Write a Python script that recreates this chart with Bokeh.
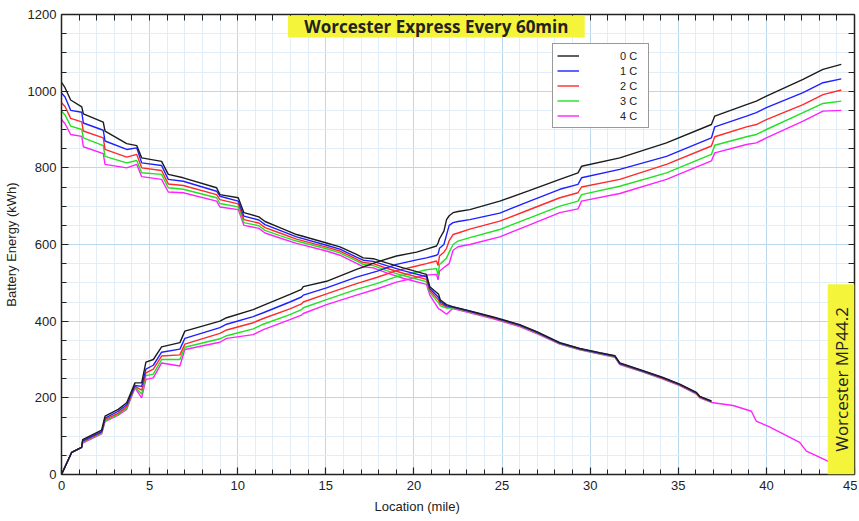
import math
from bokeh.plotting import figure
from bokeh.models import (Range1d, FixedTicker, LinearAxis, Legend, LegendItem,
                          BoxAnnotation, Label, Title)
from bokeh.embed import file_html
from bokeh.resources import INLINE

# ---------------- data ----------------
series_names = ["0 C", "1 C", "2 C", "3 C", "4 C"]
series_colors = ["#1c1c1c", "#2020ff", "#ff2a2a", "#22e022", "#ff22ff"]

desc_x = [0, 0.2, 0.52, 1.15, 1.24, 2.37, 2.47, 3.70, 4.27, 4.55,
          5.68, 6.06, 6.91, 8.80, 8.99, 10.03, 10.35, 11.2, 11.55, 12.39,
          13.34, 15.04, 15.80, 16.74, 17.12, 17.69, 18.45, 19.39, 20.71, 20.9,
          21.4, 21.5, 21.85, 22.2, 23.17, 24.5, 26.0, 27.0, 28.28, 29.41,
          30.54, 31.4, 31.68, 33.0, 34.13, 35.08, 36.03, 36.22, 36.88]
desc_0c = [1023, 1009, 977, 959, 941, 919, 896, 863, 858, 826,
           817, 783, 774, 748, 730, 722, 683, 672, 660, 644,
           626, 604, 594, 574, 565, 563, 552, 539, 522, 490,
           470, 455, 443, 438, 427, 411, 391, 372, 344, 329,
           318, 310, 291, 271, 253, 236, 214, 204, 192]
desc_1c = [995, 985, 950, 945, 917, 898, 870, 848, 852, 813,
           806, 770, 765, 739, 726, 713, 674, 664, 652, 637,
           620, 598, 588, 567, 559, 556, 545, 532, 516, 485,
           462, 450, 440, 437, 426, 410, 390, 371, 343, 328,
           317, 309, 290, 270, 252, 235, 213, 203, 191]
desc_2c = [970, 960, 929, 920, 896, 878, 848, 828, 835, 800,
           793, 758, 754, 730, 717, 706, 665, 656, 644, 630,
           614, 593, 583, 562, 553, 550, 538, 525, 509, 480,
           455, 445, 437, 436, 425, 409, 389, 370, 342, 327,
           316, 308, 289, 269, 251, 234, 212, 202, 190]
desc_3c = [948, 938, 909, 900, 878, 858, 830, 813, 819, 787,
           783, 748, 744, 722, 707, 698, 657, 649, 637, 623,
           609, 589, 578, 557, 548, 545, 532, 519, 503, 475,
           447, 440, 434, 435, 424, 408, 388, 369, 341, 326,
           315, 307, 288, 268, 250, 233, 211, 201, 189]
desc_4c = [926, 915, 887, 882, 855, 837, 809, 800, 809, 777,
           770, 737, 735, 713, 698, 691, 650, 642, 630, 617,
           603, 583, 572, 551, 542, 539, 526, 512, 496, 468,
           432, 430, 418, 433, 422, 406, 386, 367, 340, 325,
           314, 306, 287, 267, 249, 232, 210, 200, 188]
# 4 C keeps going after the others stop
tail_x_4c = [38.11, 39.15, 39.43, 40.09, 41.89, 42.27, 43.4, 44.2]
tail_4c = [180, 165, 139, 126, 84, 61, 37, 15]

asc_x = [0, 0.58, 1.14, 1.2, 2.28, 2.47, 3.22, 3.70, 4.17, 4.55,
         4.79, 5.21, 5.68, 6.72, 7.0, 8.99, 9.37, 10.88, 11.45, 12.96,
         13.62, 13.72, 15.04, 16.74, 17.88, 19.01, 20.15, 20.71, 21.28, 21.37,
         21.45, 21.7, 21.85, 22.0, 22.22, 22.5, 23.17, 24.87, 26.5, 28.28,
         29.31, 29.51, 31.68, 34.33, 36.88, 37.07, 38.87, 39.43, 40.0, 42.08,
         43.21, 44.25]
asc_0c = [0, 58, 71, 91, 116, 152, 170, 187, 239, 239,
          293, 300, 333, 344, 374, 400, 409, 430, 441, 470,
          483, 490, 504, 535, 554, 570, 580, 588, 596, 604,
          615, 635, 665, 675, 683, 686, 691, 713, 740, 770,
          787, 804, 826, 865, 913, 935, 965, 974, 987, 1031,
          1057, 1070]
asc_1c = [0, 58, 71, 88, 112, 147, 165, 182, 232, 230,
          275, 285, 319, 327, 355, 383, 392, 412, 422, 450,
          463, 468, 487, 515, 530, 548, 560, 565, 572, 575,
          590, 600, 625, 650, 657, 660, 665, 682, 712, 744,
          757, 774, 796, 830, 878, 907, 935, 944, 957, 996,
          1022, 1032]
asc_2c = [0, 58, 71, 86, 110, 143, 160, 177, 230, 220,
          265, 275, 309, 312, 340, 368, 377, 396, 407, 432,
          445, 450, 471, 498, 514, 532, 544, 550, 557, 545,
          570, 580, 590, 610, 626, 630, 640, 661, 690, 722,
          735, 750, 770, 809, 857, 881, 907, 913, 926, 965,
          991, 1003]
asc_3c = [0, 58, 71, 84, 108, 140, 157, 173, 228, 210,
          258, 262, 300, 300, 332, 354, 362, 380, 392, 417,
          430, 435, 456, 483, 498, 516, 528, 534, 537, 518,
          548, 558, 565, 580, 600, 609, 618, 639, 668, 700,
          713, 730, 752, 787, 835, 859, 881, 887, 900, 944,
          968, 974]
asc_4c = [0, 58, 71, 82, 106, 138, 155, 170, 226, 200,
          248, 252, 291, 283, 326, 345, 355, 365, 378, 404,
          416, 420, 443, 468, 484, 502, 514, 520, 522, 508,
          530, 540, 545, 550, 585, 594, 600, 620, 650, 683,
          693, 713, 733, 770, 818, 839, 861, 865, 878, 922,
          948, 950]

x_major = list(range(0, 46, 5))
x_minor = list(range(0, 46))
y_major = list(range(0, 1201, 200))
y_minor = list(range(0, 1201, 50))

title_text = "Worcester Express Every 60min"
side_text = "Worcester MP44.2"
x_label_text = "Location (mile)"
y_label_text = "Battery Energy (kWh)"

# ---------------- figure ----------------
TICK_FONT = "Liberation Sans Narrow, Arial Narrow, Liberation Sans"
p = figure(frame_width=793, frame_height=460, x_range=Range1d(0, 45), y_range=Range1d(0, 1200),
           output_backend="svg", toolbar_location=None,
           min_border_left=54, min_border_right=3, min_border_top=14, min_border_bottom=30)
p.outline_line_color = None
p.background_fill_color = "white"

xb = p.below[0]
yl = p.left[0]
xt = LinearAxis(ticker=FixedTicker(ticks=[], minor_ticks=x_minor))
yr = LinearAxis(ticker=FixedTicker(ticks=[], minor_ticks=y_minor))
p.add_layout(xt, "above")
p.add_layout(yr, "right")

xb.ticker = FixedTicker(ticks=x_major, minor_ticks=x_minor)
yl.ticker = FixedTicker(ticks=y_major, minor_ticks=y_minor)

for ax in (xb, yl, xt, yr):
    ax.axis_line_color = "#222222"
    ax.axis_line_width = 1.5
    ax.major_tick_in = 7
    ax.major_tick_out = 0
    ax.minor_tick_in = 5
    ax.minor_tick_out = 0
    ax.major_tick_line_color = "#222222"
    ax.minor_tick_line_color = "#222222"
    ax.major_tick_line_width = 1.2
    ax.minor_tick_line_width = 1
    ax.major_label_text_font = TICK_FONT
    ax.major_label_text_font_size = "13px"
    ax.major_label_text_color = "#222222"
    ax.major_label_standoff = 5

xt.minor_tick_in = 6
yr.minor_tick_in = 6
xt.major_label_standoff = 0
yr.major_label_standoff = 0

xb.major_label_standoff = 6

yl.axis_label = y_label_text
yl.axis_label_text_font = TICK_FONT
yl.axis_label_text_font_size = "13px"
yl.axis_label_text_font_style = "normal"
yl.axis_label_text_color = "#222222"
yl.axis_label_standoff = 6

xtitle = Title(text=x_label_text, align="left", offset=313, standoff=8,
               text_font=TICK_FONT, text_font_size="13px", text_font_style="normal",
               text_color="#222222")
p.add_layout(xtitle, "below")

p.xgrid.grid_line_color = "#b9d8ec"
p.ygrid.grid_line_color = "#b9d8ec"
p.xgrid.minor_grid_line_color = "#e1eef7"
p.ygrid.minor_grid_line_color = "#e1eef7"

desc_all = [desc_0c, desc_1c, desc_2c, desc_3c, desc_4c]
asc_all = [asc_0c, asc_1c, asc_2c, asc_3c, asc_4c]

renderers = {}
for i in reversed(range(5)):
    dx = list(desc_x)
    dy = list(desc_all[i])
    if i == 4:
        dx += tail_x_4c
        dy += tail_4c
    p.line(dx, dy, line_color=series_colors[i], line_width=1.4)
    renderers[i] = p.line(asc_x, asc_all[i], line_color=series_colors[i], line_width=1.4)

legend = Legend(items=[LegendItem(label=series_names[i], renderers=[renderers[i]]) for i in range(5)],
                location=(491, 346), orientation="vertical", padding=4, margin=0, spacing=0,
                glyph_width=22, glyph_height=15, label_height=15, label_standoff=41,
                label_width=24, label_text_font="Liberation Sans", label_text_font_size="11px",
                label_text_color="#222222", border_line_color="#333333", border_line_width=1.5,
                background_fill_color="white", background_fill_alpha=1)
p.add_layout(legend)

p.add_layout(BoxAnnotation(left=12.85, right=29.69, bottom=1140, top=1197,
                           fill_color="#f4f43a", fill_alpha=1, line_color=None))
p.add_layout(Label(x=21.27, y=1169, text=title_text, text_font="Open Sans",
                   text_font_style="bold", text_font_size="17px", text_color="#222222",
                   text_align="center", text_baseline="middle"))

p.add_layout(BoxAnnotation(left=43.48, right=45, bottom=0, top=496,
                           fill_color="#f4f43a", fill_alpha=1, line_color=None))
p.add_layout(Label(x=44.24, y=248, angle=math.pi / 2, text=side_text, text_font="Open Sans",
                   text_font_size="17px", text_color="#222222",
                   text_align="center", text_baseline="middle"))

open("out.html", "w").write(file_html(p, INLINE))
